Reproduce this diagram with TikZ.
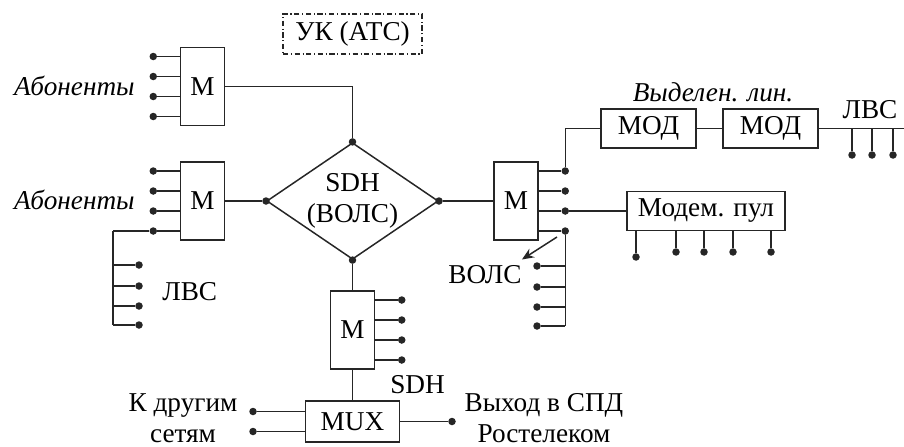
\documentclass[tikz,border=0pt]{standalone}
\usepackage{fontspec}
\setmainfont{LiberationSerif-Regular.ttf}[ItalicFont=LiberationSerif-Italic.ttf]
\usetikzlibrary{arrows.meta,shapes.geometric}
\definecolor{ink}{HTML}{262626}
\tikzset{
  wire/.style={draw=ink,line width=.85pt},
  pointer/.style={wire,-{Stealth[length=2.4mm,width=2mm]}},
  dot/.style={circle,fill=ink,inner sep=0pt,minimum size=1.5mm},
  box/.style={draw=ink,line width=.85pt,inner sep=0pt,align=center},
  mbox/.style={box,minimum width=8.8mm,minimum height=15.6mm},
  modbox/.style={box,minimum width=19mm,minimum height=7.8mm},
  ring/.style={diamond,draw=ink,line width=.85pt,inner sep=0pt,aspect=1.47,
    minimum width=34.2mm,minimum height=23.2mm,align=center},
  station/.style={draw=ink,line width=.6pt,
    dash pattern=on 3pt off 1.5pt on .6pt off 1.5pt,
    minimum width=27.8mm,minimum height=8mm,inner sep=0pt},
  caption/.style={inner sep=0pt,align=center},
}

\begin{document}
\begin{tikzpicture}[x=1cm,y=1cm,font=\fontsize{15.5}{17.5}\selectfont]
\useasboundingbox (0,0) rectangle (18.08,-8.92);
\node[station] (uk) at (7.05,-0.68) {УК (АТС)};
\node[mbox] (mtop) at (4.05,-1.73) {М};
\node[mbox] (mleft) at (4.05,-4.02) {М};
\node[ring] (sdh) at (7.05,-4.02) {SDH\\(ВОЛС)};
\node[mbox] (mright) at (10.32,-4.02) {М};
\node[mbox] (mlow) at (7.05,-6.6) {М};
\node[box,minimum width=18.8mm,minimum height=8.2mm] (mux) at (7.05,-8.43) {MUX};
\node[modbox] (modA) at (12.97,-2.57) {МОД};
\node[modbox] (modB) at (15.41,-2.57) {МОД};
\node[modbox,minimum width=31.6mm] (pool) at (14.12,-4.22) {Модем. пул};
\node[caption,anchor=east] (subsA) at (2.7,-1.72) {\textit{Абоненты}};
\node[caption,anchor=east] (subsB) at (2.7,-4.0) {\textit{Абоненты}};
\node[caption,anchor=west] (lanL) at (3.24,-5.84) {ЛВС};
\node[caption] (lease) at (14.26,-1.84) {\textit{Выделен. лин.}};
\node[caption] (lanR) at (17.4,-2.2) {ЛВС};
\node[caption] (vols) at (9.7,-5.5) {ВОЛС};
\node[caption] (sdhlow) at (8.35,-7.7) {SDH};
\node[caption] (other) at (3.66,-8.36) {К другим\\сетям};
\node[caption] (spdlab) at (10.88,-8.36) {Выход в СПД\\Ростелеком};
\foreach \i/\dy in {1/.6,2/.2,3/-.2,4/-.6} {
  \node[dot] (ta\i) at ([xshift=-5.3mm,yshift=\dy cm]mtop.west) {};
  \draw[wire] (ta\i) -- (ta\i -| mtop.west);
  \node[dot] (la\i) at ([xshift=-5.3mm,yshift=\dy cm]mleft.west) {};
  \draw[wire] (la\i) -- (la\i -| mleft.west);
  \node[dot] (ra\i) at ([xshift=5.3mm,yshift=\dy cm]mright.east) {};
  \draw[wire] (ra\i) -- (ra\i -| mright.east);
  \node[dot] (da\i) at ([xshift=5.3mm,yshift=\dy cm]mlow.east) {};
  \draw[wire] (da\i) -- (da\i -| mlow.east);
}
\foreach \a in {north,west,east,south} \node[dot] (sdh-\a) at (sdh.\a) {};
\draw[wire] (mtop.east) -| (sdh-north);
\draw[wire] (mleft.east) -- (sdh-west);
\draw[wire] (sdh-east) -- (mright.west);
\draw[wire] (sdh-south) -- (mlow.north);
\draw[wire] (mlow.south) -- (mux.north);
\coordinate (lbus) at (2.26,0 |- la4);
\draw[wire] (lbus) -- (la4);
\foreach \i/\y in {1/-5.3,2/-5.72,3/-6.12,4/-6.5} {
  \node[dot] (ll\i) at (2.78,\y) {};
  \draw[wire] (ll\i) -- (ll\i -| lbus);
  \node[dot] (rl\i) at (10.74,\y-.02) {};
  \draw[wire] (rl\i) -- (rl\i -| ra4);
}
\draw[wire] (lbus) -- (ll4 -| lbus);
\draw[wire] (ra4) -- (rl4 -| ra4);
\coordinate (volsA) at (11.14,-4.74);
\draw[pointer] (volsA) -- ([shift={(0,.12)}]vols.north east);
\draw[wire] (ra1) |- (modA.west);
\draw[wire] (ra3) -- (pool.west);
\draw[wire] (modA.east) -- (modB.west);
\coordinate (lanend) at (18.08,-2.57);
\draw[wire] (modB.east) -- (lanend);
\foreach \i/\x in {1/17.04,2/17.44,3/17.86} {
  \node[dot] (rn\i) at (\x,-3.1) {};
  \draw[wire] (rn\i) -- (rn\i |- modB.east);
}
\foreach \i/\x/\y in {1/12.72/-5.14,2/13.52/-5.04,3/14.08/-5.04,4/14.66/-5.04,5/15.42/-5.04} {
  \node[dot] (pd\i) at (\x,\y) {};
  \draw[wire] (pd\i) -- (pd\i |- pool.south);
}
\node[dot] (kx1) at (5.06,-8.23) {};
\node[dot] (kx2) at (5.06,-8.63) {};
\draw[wire] (kx1) -- (kx1 -| mux.west);
\draw[wire] (kx2) -- (kx2 -| mux.west);
\node[dot] (spd) at (9.04,-8.43) {};
\draw[wire] (mux.east) -- (spd);
\end{tikzpicture}
\end{document}
